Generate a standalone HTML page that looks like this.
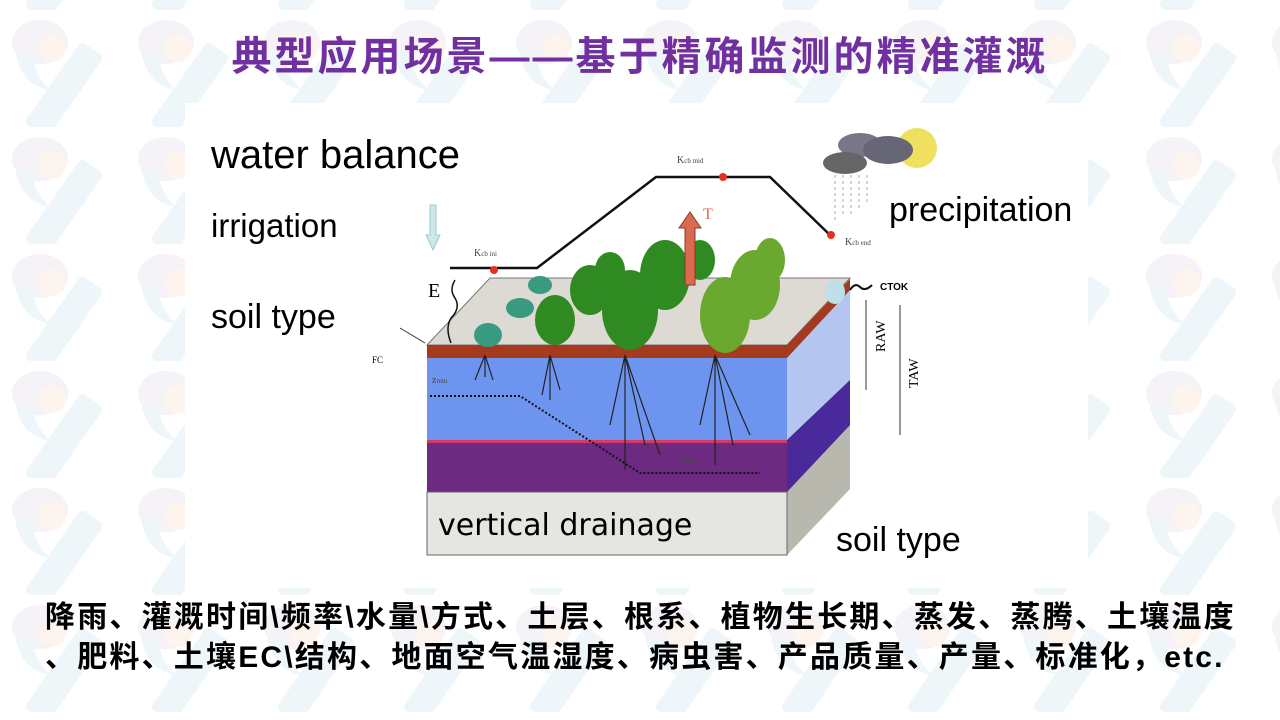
<!DOCTYPE html>
<html><head><meta charset="utf-8"><style>
body{margin:0;width:1280px;height:720px;overflow:hidden;background:#fff;font-family:"Liberation Sans","Noto Sans CJK SC",sans-serif;position:relative}
.t{position:absolute;white-space:nowrap}
</style></head><body>
<svg width="1280" height="720" style="position:absolute;left:0;top:0">
<defs>
<pattern id="wm" x="-10" y="10" width="126" height="117" patternUnits="userSpaceOnUse">
<ellipse cx="50" cy="32" rx="28" ry="22" fill="#f5f2f8"/>
<ellipse cx="62" cy="38" rx="14" ry="14" fill="#fdf4ee"/>
<path d="M25 40 Q30 75 60 80 Q40 60 45 45Z" fill="#eef6f9"/>
<rect x="60" y="30" width="28" height="100" rx="5" fill="#eef6f9" transform="rotate(35 74 80)"/>
</pattern>
</defs>
<rect width="1280" height="720" fill="url(#wm)"/>
<rect x="185" y="103" width="903" height="485" fill="#fff"/>
<polygon points="787,345 850,279 850,489 787,555" fill="#b8b8ae"/>
<polygon points="787,345 850,279 850,380 787,440" fill="#b4c6f0"/>
<polygon points="787,440 850,380 850,425 787,492" fill="#4a2a9a"/>
<polygon points="427,345 490,278 850,278 787,345" fill="#dcdad2" stroke="#777"/>
<polygon points="787,345 850,279 850,290 787,358" fill="#a63a1e"/>
<rect x="427" y="345" width="360" height="13" fill="#a63a1e"/>
<rect x="427" y="358" width="360" height="82" fill="#6d95f0"/>
<rect x="427" y="440" width="360" height="3" fill="#d23a6a"/>
<rect x="427" y="443" width="360" height="49" fill="#6c2a80"/>
<rect x="427" y="492" width="360" height="63" fill="#e5e5e2" stroke="#666"/>
<polyline points="430,396 520,396 640,473 760,473" fill="none" stroke="#111" stroke-width="2" stroke-dasharray="2,2"/>
<g stroke="#222" fill="none" stroke-width="1.2">
<path d="M485 355 l-10 25 M485 355 l8 25 M485 355 l0 22"/>
<path d="M550 355 l-8 40 M550 355 l10 35 M550 355 l0 45"/>
<path d="M625 355 l-15 70 M625 355 l20 90 M625 355 l0 115 M625 355 l35 100"/>
<path d="M715 355 l-15 70 M715 355 l18 90 M715 355 l0 110 M715 355 l35 80"/>
</g>
<g fill="#2f8a22">
<ellipse cx="488" cy="335" rx="14" ry="12" fill="#3a9a80"/>
<ellipse cx="520" cy="308" rx="14" ry="10" fill="#3a9a80"/>
<ellipse cx="540" cy="285" rx="12" ry="9" fill="#3a9a80"/>
<ellipse cx="555" cy="320" rx="20" ry="25"/>
<ellipse cx="590" cy="290" rx="20" ry="25"/>
<ellipse cx="610" cy="270" rx="15" ry="18"/>
<ellipse cx="630" cy="310" rx="28" ry="40"/>
<ellipse cx="665" cy="275" rx="25" ry="35"/>
<ellipse cx="700" cy="260" rx="15" ry="20"/>
<ellipse cx="725" cy="315" rx="25" ry="38" fill="#6aa830"/>
<ellipse cx="755" cy="285" rx="25" ry="35" fill="#6aa830"/>
<ellipse cx="770" cy="260" rx="15" ry="22" fill="#6aa830"/>
</g>
<polyline points="450,268 537,268 656,177 770,177 830,235" fill="none" stroke="#111" stroke-width="2.5"/>
<circle cx="494" cy="270" r="4" fill="#e53020"/><circle cx="723" cy="177" r="4" fill="#e53020"/><circle cx="831" cy="235" r="4" fill="#e53020"/>
<polygon points="685,285 685,228 679,228 690,212 701,228 695,228 695,285" fill="#d96a50" stroke="#8a3a2a"/>
<text x="703" y="219" font-family="Liberation Serif" font-size="16" fill="#d96a50">T</text>
<polygon points="430,205 436,205 436,235 440,235 433,250 426,235 430,235" fill="#cfe6ea" stroke="#9cc"/>
<text x="428" y="297" font-family="Liberation Serif" font-size="20">E</text>
<path d="M455 280 q-6 10 0 18 q6 10 -4 20 q-6 10 0 25" fill="none" stroke="#111" stroke-width="1.5"/>
<path d="M425 343 L400 328" stroke="#333"/><text x="372" y="363" font-family="Liberation Serif" font-size="9">FC</text>
<circle cx="917" cy="148" r="20" fill="#f0e060"/>
<ellipse cx="860" cy="145" rx="22" ry="12" fill="#778"/>
<ellipse cx="888" cy="150" rx="25" ry="14" fill="#667"/>
<ellipse cx="845" cy="163" rx="22" ry="11" fill="#666"/>
<g stroke="#aab" stroke-dasharray="3,3"><path d="M835 175v45M843 175v40M851 175v40M859 175v35M867 175v30"/></g>
<ellipse cx="835" cy="292" rx="10" ry="12" fill="#bfe0e8"/>
<path d="M850 290 q5 -8 10 -3 q5 5 12 -2" stroke="#111" fill="none" stroke-width="2"/>
<text x="880" y="290" font-size="10" font-weight="bold">CTOK</text>
<g stroke="#333"><path d="M866 300v90M900 305v130"/></g>
<text font-family="Liberation Serif" font-size="14" transform="translate(885,352) rotate(-90)">RAW</text>
<text font-family="Liberation Serif" font-size="14" transform="translate(918,388) rotate(-90)">TAW</text>
<g font-family="Liberation Serif" font-size="10" fill="#444">
<text x="474" y="256">K<tspan font-size="7">cb ini</tspan></text>
<text x="677" y="163">K<tspan font-size="7">cb mid</tspan></text>
<text x="845" y="245">K<tspan font-size="7">cb end</tspan></text>
<text x="432" y="383">z<tspan font-size="7">min</tspan></text>
<text x="683" y="463">z<tspan font-size="7">max</tspan></text>
</g>
</svg>
<div class="t" style="left:0;width:1280px;text-align:center;top:24px;font-size:40px;letter-spacing:3px;font-weight:bold;color:#7030a0">典型应用场景——基于精确监测的精准灌溉</div>
<div class="t" style="left:211px;top:133px;font-size:40px">water balance</div>
<div class="t" style="left:211px;top:207px;font-size:33px">irrigation</div>
<div class="t" style="left:211px;top:298px;font-size:34px">soil type</div>
<div class="t" style="left:889px;top:191px;font-size:34px">precipitation</div>
<div class="t" style="left:836px;top:521px;font-size:34px">soil type</div>
<div class="t" style="left:438px;top:508px;font-size:30px;font-family:'DejaVu Sans',sans-serif">vertical drainage</div>
<div class="t" style="left:45px;top:592px;font-size:30px;letter-spacing:2.2px;font-weight:bold">降雨、灌溉时间\频率\水量\方式、土层、根系、植物生长期、蒸发、蒸腾、土壤温度</div>
<div class="t" style="left:45px;top:632px;font-size:30px;letter-spacing:2.2px;font-weight:bold">、肥料、土壤EC\结构、地面空气温湿度、病虫害、产品质量、产量、标准化，etc.</div>
</body></html>
